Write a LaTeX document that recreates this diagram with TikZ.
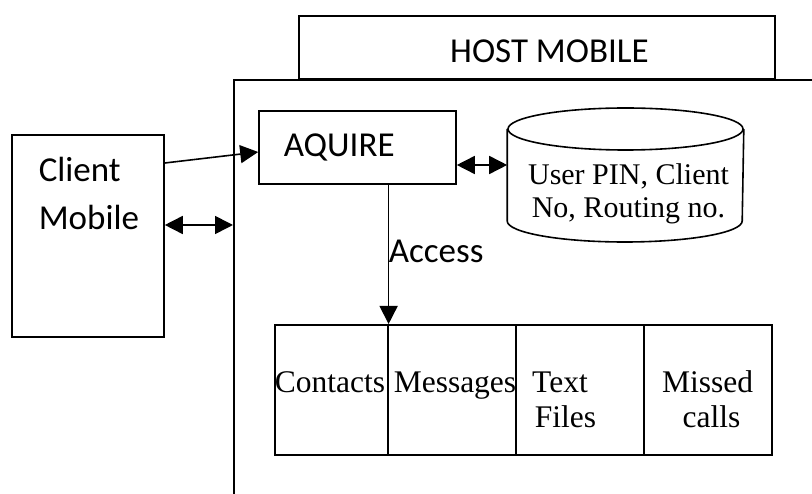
\documentclass[tikz,border=0pt]{standalone}
\usepackage{fontspec}
\newfontfamily\calib{Carlito}
\newfontfamily\tms{Liberation Serif}
\usetikzlibrary{arrows.meta,calc}
\begin{document}
\begin{tikzpicture}[x=1pt,y=-1pt,
  line width=1.6pt,
  box/.style={draw, inner sep=0pt, rectangle},
  sans/.style={inner sep=0pt, font=\calib\fontsize{35}{35}\selectfont},
  serif/.style={inner sep=0pt, font=\tms\fontsize{30}{30}\selectfont},
  cellt/.style={inner sep=0pt, font=\tms\fontsize{31.5}{31.5}\selectfont},
  tip/.style={-{Triangle[length=18pt,width=18pt]}},
  dbl/.style={{Triangle[length=18pt,width=18pt]}-{Triangle[length=18pt,width=18pt]}}]
\useasboundingbox (0,0) rectangle (812,494);
\clip (0,0) rectangle (812,494);
% host title box
\node[box, minimum width=476pt, minimum height=63pt] (host) at (537,47.5) {};
\node[sans, anchor=base] (hostt) at (549.5,63) {HOST MOBILE};
% main host frame (extends beyond picture)
\node[box, fill=white, minimum width=640pt, minimum height=460pt, anchor=north west] (main) at (233,79) {};
% client
\node[box, minimum width=152pt, minimum height=202pt] (client) at (88,236) {};
\node[sans, anchor=base west] (cl1) at (38,182) {Client};
\node[sans, anchor=base west] (cl2) at (38,230) {Mobile};
% aquire
\node[box, minimum width=197pt, minimum height=73pt] (aqu) at (357.5,147.5) {};
\node[sans, anchor=base west] (aqut) at (283,157) {AQUIRE};
% database cylinder
\node[inner sep=0pt, minimum width=235pt, minimum height=134pt] (db) at (625.5,175) {};
\draw (db.west |- 0,129) -- (db.west |- 0,221)
  arc[start angle=180, end angle=360, x radius=117.5pt, y radius=21pt]
  -- (db.east |- 0,129);
\draw (625.5,129) ellipse[x radius=117.5pt, y radius=21pt];
\node[serif, anchor=base] (dbt1) at (628.5,185) {User PIN, Client};
\node[serif, anchor=base] (dbt2) at (628.5,218) {No, Routing no.};
% table cells
\node[box, minimum width=113pt, minimum height=130pt, anchor=north west] (c1) at (274,324) {};
\node[box, minimum width=128pt, minimum height=130pt, anchor=north west] (c2) at (387,324) {};
\node[box, minimum width=128pt, minimum height=130pt, anchor=north west] (c3) at (515,324) {};
\node[box, minimum width=128pt, minimum height=130pt, anchor=north west] (c4) at (643,324) {};
\node[cellt, anchor=base] (t1) at (330,393) {Contacts};
\node[cellt, anchor=base] (t2) at (455,393) {Messages};
\node[cellt, anchor=base] (t3a) at (560,393) {Text};
\node[cellt, anchor=base] (t3b) at (565.5,428) {Files};
\node[cellt, anchor=base] (t4a) at (707.5,393) {Missed};
\node[cellt, anchor=base] (t4b) at (711.5,428) {calls};
% connectors
\draw[tip] (client.east |- 0,163) -- (aqu.west |- 0,152);
\draw[dbl] (client.east |- 0,225) -- (main.west |- 0,225);
\draw[dbl] (aqu.east |- 0,165) -- (db.west |- 0,165);
\draw[tip] (aqu.south -| c1.north east) -- (c1.north east);
\node[sans, anchor=base west] (acc) at (388,263) {Access};
\end{tikzpicture}
\end{document}
